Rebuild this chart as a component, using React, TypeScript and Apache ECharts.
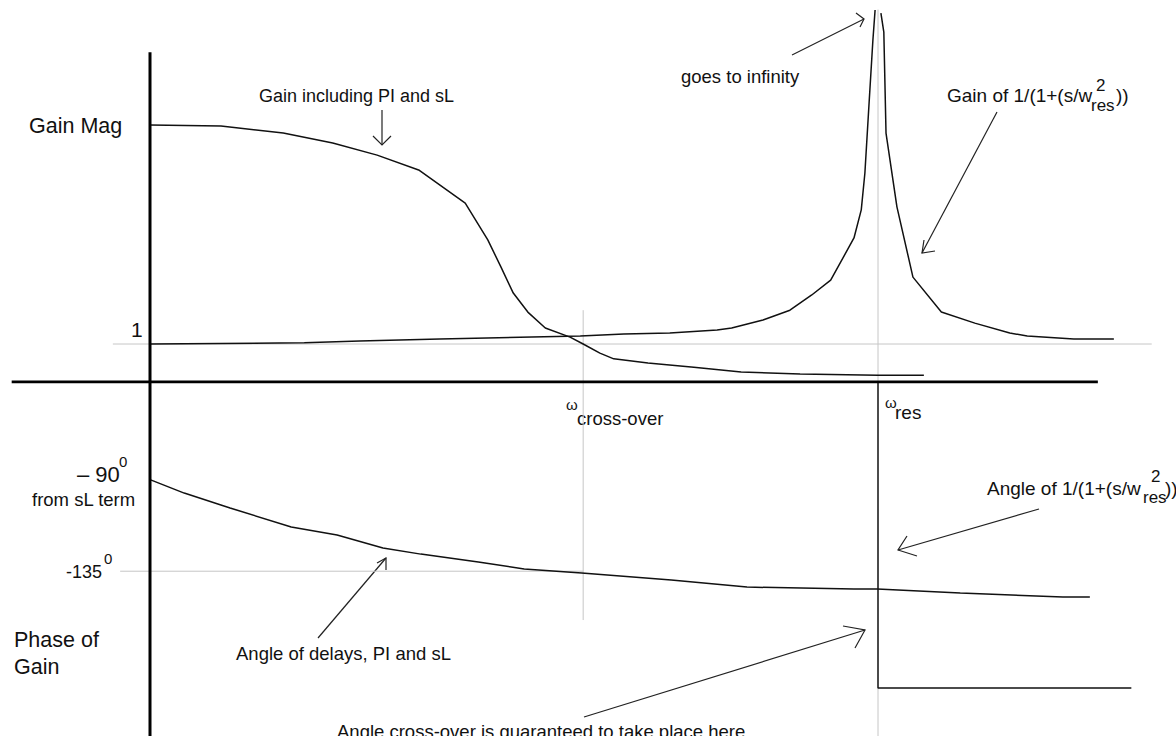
import React, { useEffect, useRef } from "react";
import * as echarts from "echarts";

const WIDTH = 1176;
const HEIGHT = 736;

// Frequency runs in units where the origin is 0 and the resonance ω_res is 100.
const W_CROSS = 59.5;
const W_RES = 100;

// Gain magnitude including the PI controller and the sL term.
const gainWithPI: number[][] = [
  [0, 6.76], [9.75, 6.74], [18.3, 6.55], [25.1, 6.29], [31.2, 5.97], [36.9, 5.58],
  [43.3, 4.71], [46.4, 3.74], [48.2, 3.03], [49.9, 2.34], [51.9, 1.84], [54.3, 1.42],
  [57.7, 1.18], [59.5, 1.0], [61.8, 0.76], [63.7, 0.61], [68.4, 0.5], [74.7, 0.39],
  [81.2, 0.26], [89.3, 0.21], [100, 0.18], [106.3, 0.18],
];

// Gain of 1/(1+(s/w_res)^2) below the resonance.
const resonanceGainBelow: number[][] = [
  [0, 1.0], [21.2, 1.03], [28.8, 1.08], [39.8, 1.13], [50.8, 1.18], [59.1, 1.21],
  [65.1, 1.26], [71.4, 1.29], [77.9, 1.37], [79.9, 1.42], [84.2, 1.63], [87.9, 1.89],
  [90.9, 2.29], [93.5, 2.68], [96.7, 3.79], [97.7, 4.53], [98.2, 5.5], [98.8, 7.42],
  [99.3, 9.0], [99.6, 9.79],
];

// Same gain above the resonance.
const resonanceGainAbove: number[][] = [
  [100.4, 9.71], [100.8, 9.21], [101.1, 6.55], [102.6, 4.61], [104.8, 2.76],
  [108.7, 1.84], [113.3, 1.55], [118.1, 1.29], [120.5, 1.21], [126.9, 1.13], [132.4, 1.13],
];

// Angle of delays, PI and sL (degrees).
const phaseDelays: number[][] = [
  [0, -90], [4.7, -96.6], [11.0, -103.9], [19.4, -113.3], [25.7, -117.2], [32.0, -123.6],
  [37.2, -126.6], [45.1, -130.5], [51.4, -133.9], [59.3, -135.9], [71.6, -139.3],
  [82.0, -142.8], [96.7, -143.8], [99.9, -143.8], [111.3, -145.7], [125.4, -147.7],
  [129.1, -147.7],
];

// Angle of 1/(1+(s/w_res)^2): a step at the resonance.
const resonanceAngle: number[][] = [
  [W_RES, -42], [W_RES, -192.4], [134.8, -192.4],
];

const GAIN_UNITY = 1;
const PHASE_REF = -135;
const GAIN_RANGE = [0, 10];
const PHASE_RANGE = [-216, -42];

// Horizontal placement of the frequency scale.
const ORIGIN_PX = 150;
const UNIT_PX = 7.28;

const INK = "#111";
const GREY = "#c6c6c6";
const FONT = '"Liberation Sans", Arial, Helvetica, sans-serif';

function seg(name: string, data: number[][], grid: number, color: string, width: number, z: number) {
  return {
    name,
    type: "line",
    xAxisIndex: grid,
    yAxisIndex: grid,
    data,
    symbol: "none",
    silent: true,
    z,
    lineStyle: { color, width, type: "solid" },
    emphasis: { disabled: true },
  };
}

function txt(text: string, x: number, y: number, size: number) {
  return {
    type: "text",
    x,
    y,
    silent: true,
    style: { text, fontSize: size, fontFamily: FONT, fill: INK, verticalAlign: "middle", align: "left" },
  };
}

function arrow(shaft: number[][], head: number[][]) {
  const st = { stroke: "#222", lineWidth: 1.2, fill: null };
  return [
    { type: "polyline", silent: true, shape: { points: shaft }, style: st },
    { type: "polyline", silent: true, shape: { points: head }, style: st },
  ];
}

export default function App() {
  const ref = useRef<HTMLDivElement>(null);

  useEffect(() => {
    document.body.style.margin = "0";
    const chart = echarts.init(ref.current!, null, { renderer: "svg" });

    const xMin = -ORIGIN_PX / UNIT_PX;
    const xMax = (WIDTH - ORIGIN_PX) / UNIT_PX;
    const xAxisBase = { type: "value", min: xMin, max: xMax, show: false };

    const option: any = {
      animation: false,
      backgroundColor: "#fff",
      grid: [
        { left: 0, right: 0, top: 2, height: 380, outerBoundsMode: "none", containLabel: false },
        { left: 0, right: 0, top: 382, height: 354, outerBoundsMode: "none", containLabel: false },
      ],
      xAxis: [
        { ...xAxisBase, gridIndex: 0 },
        { ...xAxisBase, gridIndex: 1 },
      ],
      yAxis: [
        { type: "value", gridIndex: 0, min: GAIN_RANGE[0], max: GAIN_RANGE[1], show: false },
        { type: "value", gridIndex: 1, min: PHASE_RANGE[0], max: PHASE_RANGE[1], show: false },
      ],
      series: [
        // light guide lines
        seg("unity gain", [[-5.1, GAIN_UNITY], [137.6, GAIN_UNITY]], 0, GREY, 1, 1),
        seg("cross-over (gain)", [[W_CROSS, 1.89], [W_CROSS, 0]], 0, GREY, 1, 1),
        seg("resonance (gain)", [[W_RES, 9.8], [W_RES, 0]], 0, GREY, 1, 1),
        seg("-135 reference", [[-4.1, PHASE_REF], [W_CROSS, PHASE_REF]], 1, GREY, 1, 1),
        seg("cross-over (phase)", [[W_CROSS, PHASE_RANGE[1]], [W_CROSS, -159]], 1, GREY, 1, 1),
        seg("resonance (phase)", [[W_RES, -192.4], [W_RES, PHASE_RANGE[0]]], 1, GREY, 1, 1),
        // curves
        seg("Gain including PI and sL", gainWithPI, 0, INK, 1.5, 3),
        seg("Gain of resonance (below)", resonanceGainBelow, 0, INK, 1.5, 3),
        seg("Gain of resonance (above)", resonanceGainAbove, 0, INK, 1.5, 3),
        seg("Angle of delays, PI and sL", phaseDelays, 1, INK, 1.5, 3),
        seg("Angle of resonance", resonanceAngle, 1, INK, 1.5, 3),
        // hand-drawn axes
        seg("frequency axis", [[-19, 0], [130.2, 0]], 0, "#000", 3, 4),
        seg("gain axis", [[0, 8.68], [0, 0]], 0, "#000", 3, 4),
        seg("phase axis", [[0, PHASE_RANGE[1]], [0, PHASE_RANGE[0]]], 1, "#000", 3, 4),
      ],
      graphic: [
        txt("Gain Mag", 29, 126, 21.5),
        txt("1", 131, 329, 21),
        txt("Gain including PI and sL", 259, 96, 18),
        txt("goes to infinity", 681, 76, 18.5),
        txt("Gain of 1/(1+(s/w", 947, 95, 19),
        txt("2", 1096, 85, 17),
        txt("res", 1091, 105, 17),
        txt("))", 1116, 95, 19),
        txt("ω", 566, 404, 15),
        txt("cross-over", 577, 418, 18.5),
        txt("ω", 885, 402, 15),
        txt("res", 895, 412, 19),
        txt("– 90", 77, 474, 22),
        txt("0", 119, 461, 15),
        txt("from sL term", 32, 499, 18.5),
        txt("-135", 66, 572, 18),
        txt("0", 104, 558, 15),
        txt("Phase of", 14, 640, 21.5),
        txt("Gain", 14, 667, 21.5),
        txt("Angle of 1/(1+(s/w", 987, 488, 19),
        txt("2", 1151, 476, 17),
        txt("res", 1143, 497, 17),
        txt("))", 1165, 488, 19),
        txt("Angle cross-over is guaranteed to take place here", 337, 731, 18.5),
        txt("Angle of delays, PI and sL", 236, 653, 18.5),
        ...arrow([[382, 110], [382, 145]], [[373, 136], [382, 145], [391, 136]]),
        ...arrow([[792, 55], [864, 19]], [[856, 13], [864, 19], [860, 27]]),
        ...arrow([[997, 112], [922, 253]], [[924, 240], [922, 253], [935, 251]]),
        ...arrow([[1039, 509], [898, 550]], [[907, 536], [898, 550], [917, 556]]),
        ...arrow([[318, 638], [386, 558]], [[377, 563], [386, 558], [386, 570]]),
        ...arrow([[584, 717], [865, 630]], [[843, 626], [865, 630], [855, 648]]),
      ],
    };

    chart.setOption(option);
    return () => chart.dispose();
  }, []);

  return <div ref={ref} style={{ width: WIDTH, height: HEIGHT, background: "#fff" }} />;
}
